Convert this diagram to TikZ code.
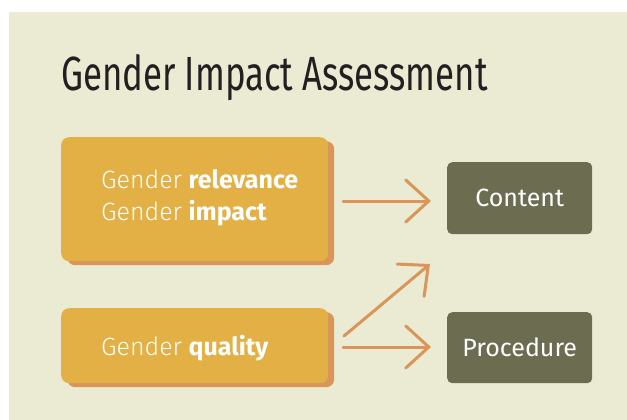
\documentclass[tikz,border=0pt]{standalone}
\usepackage{fontspec}
\setmainfont{Fira Sans}
\newfontfamily\lightf{Fira Sans Light}
\usetikzlibrary{arrows.meta,shadows}
\definecolor{bg}{HTML}{EBEBD3}
\definecolor{gold}{HTML}{E3B045}
\definecolor{shade}{HTML}{D9955A}
\definecolor{olive}{HTML}{6B6C50}
\definecolor{ink}{HTML}{231F20}
\begin{document}
\begin{tikzpicture}[x=1pt,y=-1pt,
  goldbox/.style={fill=gold, rounded corners=8pt, draw=none, inner sep=0pt,
    general shadow={fill=shade, shadow xshift=6pt, shadow yshift=-4pt}},
  olivebox/.style={fill=olive, rounded corners=5pt, draw=none, inner sep=0pt,
    minimum width=145pt, text=white, font=\fontsize{25}{29}\selectfont},
  boxtext/.style={anchor=base west, text=white, inner sep=0pt, font=\fontsize{25}{29}\selectfont},
  arr/.style={draw=shade, line width=3pt, line cap=round,
    -{Straight Barb[length=23pt,width=42pt,line cap=round]}}
]
\useasboundingbox (0,0) rectangle (627,420);
\fill[bg] (9,12) rectangle (627,420);

\node[anchor=base west, inner sep=0pt, text=ink, font=\fontsize{48}{52}\selectfont] (title) at (61,91)
  {\scalebox{0.725}[1]{Gender Impact Assessment}};

\node[goldbox, minimum width=267pt, minimum height=124pt, anchor=north west] (rel) at (61,137) {};
\node[goldbox, minimum width=267pt, minimum height=75pt, anchor=north west] (qual) at (61,308) {};

\node[boxtext] (reltxt) at (101,188) {{\lightf Gender} \textbf{relevance}};
\node[boxtext] (imptxt) at (101,220) {{\lightf Gender} \textbf{impact}};
\node[boxtext] (qualtxt) at (101,355) {{\lightf Gender} \textbf{quality}};

\node[olivebox, minimum height=72pt, anchor=north west] (content) at (447,162) {Content};
\node[olivebox, minimum height=71pt, anchor=north west] (proc) at (447,312) {Procedure};

\coordinate (a1s) at (343,201);
\coordinate (a1e) at (431,201);
\coordinate (a2s) at (344,336);
\coordinate (a2e) at (430,264);
\coordinate (a3s) at (343,347);
\coordinate (a3e) at (431,347);

\draw[arr] (a1s) -- (a1e);
\draw[arr] (a2s) -- (a2e);
\draw[arr] (a3s) -- (a3e);
\end{tikzpicture}
\end{document}
